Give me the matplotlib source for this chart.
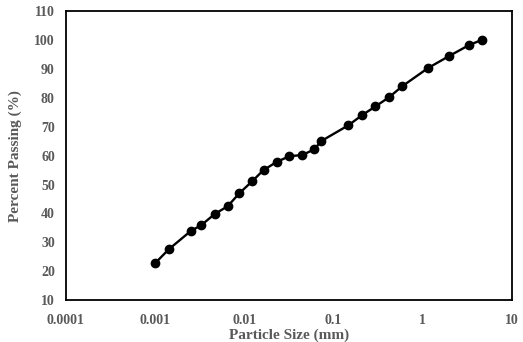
import matplotlib.pyplot as plt
import numpy as np

# grain size distribution
size_mm = [0.001, 0.00142, 0.0025, 0.0033, 0.00465, 0.0065, 0.0088, 0.0123,
           0.0164, 0.023, 0.032, 0.0447, 0.061, 0.0725, 0.147, 0.209,
           0.295, 0.42, 0.59, 1.15, 1.97, 3.3, 4.6]
passing = [22.8, 27.6, 33.9, 36.0, 39.8, 42.5, 47.0, 51.2,
           55.0, 57.8, 59.8, 60.2, 62.2, 65.0, 70.5, 74.0,
           77.0, 80.2, 84.0, 90.3, 94.4, 98.2, 100.0]
x_ticks = [0.0001, 0.001, 0.01, 0.1, 1, 10]
x_labels = ["0.0001", "0.001", "0.01", "0.1", "1", "10"]
y_ticks = list(range(10, 111, 10))

plt.rcParams['font.family'] = ['Liberation Serif', 'DejaVu Serif']

fig = plt.figure(figsize=(5.23, 3.42), dpi=100)
ax = fig.add_axes([0.126, 0.122, 0.853, 0.846])

ax.plot(size_mm, passing, "k-", marker="o", markersize=6, linewidth=1.7)
ax.set_xscale("log")
ax.set_xlim(0.0001, 10)
ax.set_ylim(10, 110)
ax.set_xticks(x_ticks)
ax.set_xticklabels(x_labels)
ax.minorticks_off()
ax.set_yticks(y_ticks)
ax.tick_params(length=0, labelsize=10, labelcolor="#595959")
ax.tick_params(axis="x", pad=10)
ax.tick_params(axis="y", pad=8)
for lab in ax.get_xticklabels() + ax.get_yticklabels():
    lab.set_fontweight("bold")
for s in ax.spines.values():
    s.set_linewidth(1.3)

ax.set_xlabel("Particle Size (mm)", fontsize=11, fontweight="bold", color="#595959", labelpad=1)
ax.set_ylabel("Percent Passing (%)", fontsize=11, fontweight="bold", color="#595959", labelpad=9)

fig.savefig("out.png", dpi=100)
